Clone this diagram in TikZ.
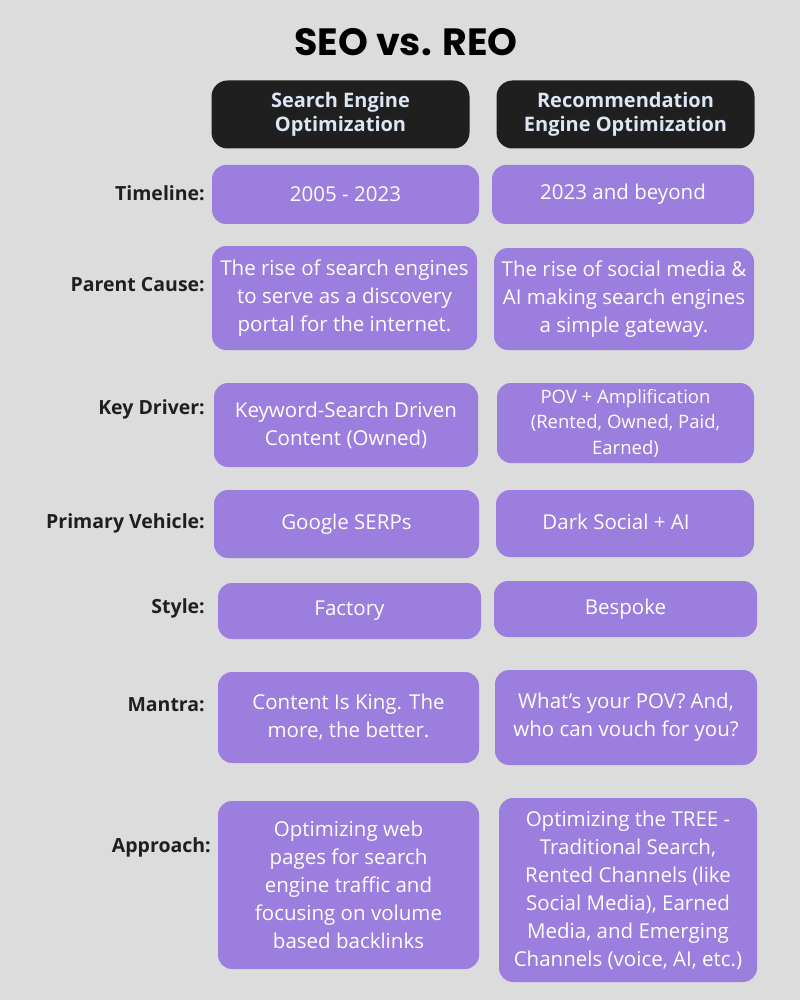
\documentclass[tikz,border=0pt]{standalone}
\usepackage{fontspec}
\setmainfont{Open Sans}
\newfontfamily\titlefont{Poppins}
\definecolor{bggray}{HTML}{DCDCDC}
\definecolor{lilac}{HTML}{9B7EDE}
\definecolor{ink}{HTML}{1F1F1F}
\definecolor{paleblue}{HTML}{DCE6F5}

\begin{document}
\begin{tikzpicture}[x=1pt,y=-1pt,
  cell/.style={fill=lilac, rounded corners=14pt, text=white, align=center,
    inner sep=0pt, font=\fontsize{20.5}{28}\selectfont},
  head/.style={fill=ink, rounded corners=16pt, text=paleblue, align=center,
    inner sep=0pt, minimum width=258pt, minimum height=68pt,
    font=\bfseries\fontsize{20}{24}\selectfont},
  rowlabel/.style={anchor=east, text=ink, inner sep=0pt,
    font=\bfseries\fontsize{19.5}{22}\selectfont}]
  \fill[bggray] (0,0) rectangle (800,1000);
  \useasboundingbox (0,0) rectangle (800,1000);

  \node[text=black, font=\titlefont\bfseries\fontsize{38}{40}\selectfont] (title) at (406,42) {SEO vs. REO};

  % column heads
  \node[head] (seo) at (340.5,114.5) {Search Engine\\Optimization};
  \node[head] (reo) at (625.5,114.5) {Recommendation\\Engine Optimization};

  % timeline
  \node[rowlabel] (timeline) at (205,193) {Timeline:};
  \node[cell, minimum width=267pt, minimum height=59pt] (seotime) at (345.5,194.5) {2005 - 2023};
  \node[cell, minimum width=262pt, minimum height=59pt] (reotime) at (623,194.5) {2023 and beyond};

  % parent cause
  \node[rowlabel] (cause) at (205,285) {Parent Cause:};
  \node[cell, minimum width=265pt, minimum height=104pt] (seocause) at (344.5,298) {The rise of search engines\\to serve as a discovery\\portal for the internet.};
  \node[cell, minimum width=260pt, minimum height=102pt] (reocause) at (624,299) {The rise of social media \&\\AI making search engines\\a simple gateway.};

  % key driver
  \node[rowlabel] (driver) at (205,409) {Key Driver:};
  \node[cell, minimum width=264pt, minimum height=84pt] (seodriver) at (346,425) {Keyword-Search Driven\\Content (Owned)};
  \node[cell, minimum width=257pt, minimum height=80pt, font=\fontsize{18.5}{25.5}\selectfont] (reodriver) at (625.5,423) {POV + Amplification\\(Rented, Owned, Paid,\\Earned)};

  % primary vehicle
  \node[rowlabel] (vehicle) at (205,523) {Primary Vehicle:};
  \node[cell, minimum width=265pt, minimum height=68pt] (seovehicle) at (346.5,524) {Google SERPs};
  \node[cell, minimum width=258pt, minimum height=67pt] (reovehicle) at (625,523.5) {};
  \node[text=white, font=\fontsize{20.5}{28}\selectfont, inner sep=0pt] (reovehicletext) at (616,522) {Dark Social + AI};

  % style
  \node[rowlabel] (style) at (205,608) {Style:};
  \node[cell, minimum width=263pt, minimum height=56pt] (seostyle) at (349.5,611) {Factory};
  \node[cell, minimum width=263pt, minimum height=56pt] (reostyle) at (625.5,609) {Bespoke};

  % mantra
  \node[rowlabel] (mantra) at (205,705) {Mantra:};
  \node[cell, minimum width=261pt, minimum height=91pt] (seomantra) at (348.5,717.5) {Content Is King. The\\more, the better.};
  \node[cell, minimum width=262pt, minimum height=95pt] (reomantra) at (626,717.5) {What's your POV? And,\\who can vouch for you?};

  % approach
  \node[rowlabel] (approach) at (211,847) {Approach:};
  \node[cell, minimum width=261pt, minimum height=168pt] (seoapproach) at (348.5,885) {Optimizing web\\pages for search\\engine traffic and\\focusing on volume\\based backlinks};
  \node[cell, minimum width=258pt, minimum height=184pt] (reoapproach) at (628,890) {Optimizing the TREE -\\Traditional Search,\\Rented Channels (like\\Social Media), Earned\\Media, and Emerging\\Channels (voice, AI, etc.)};
\end{tikzpicture}
\end{document}
